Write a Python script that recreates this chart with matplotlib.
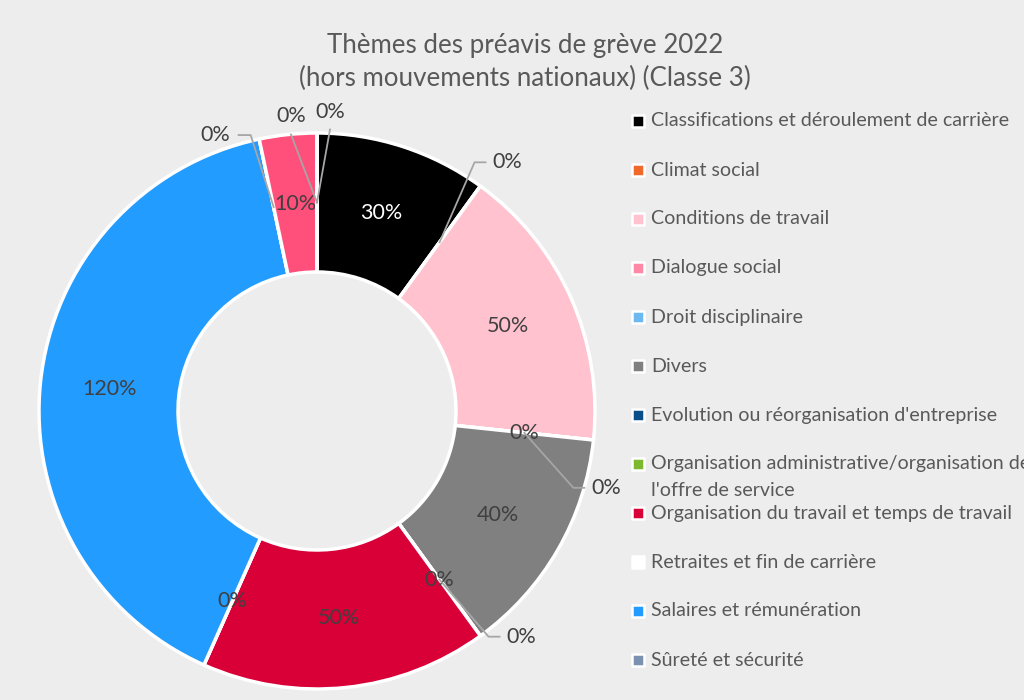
import numpy as np
import matplotlib
matplotlib.use("Agg")
import matplotlib.pyplot as plt

plt.rcParams["font.family"] = ["Lato", "DejaVu Sans"]

BG = "#EDEDED"
TXT = "#595959"
LBL = "#404040"
LEADER = "#A6A6A6"

# categories shown in the legend (the legend is cut off after "Sûreté et sécurité")
categories = [
    "Classifications et déroulement de carrière",
    "Climat social",
    "Conditions de travail",
    "Dialogue social",
    "Droit disciplinaire",
    "Divers",
    "Evolution ou réorganisation d'entreprise",
    "Organisation administrative/organisation de\nl'offre de service",
    "Organisation du travail et temps de travail",
    "Retraites et fin de carrière",
    "Salaires et rémunération",
    "Sûreté et sécurité",
]
# three further categories whose legend entries fall below the picture
extra_categories = ["", "", ""]

values = [30, 0, 50, 0, 0, 40, 0, 0, 50, 0, 120, 0]
extra_values = [10, 0, 0]

colors = ["#000000", "#F0692A", "#FFC2CE", "#FF88A6", "#6CB9F2", "#808080",
          "#0B4F8A", "#7DB92F", "#D80036", "#FFFFFF", "#239CFF", "#7A91B0"]
extra_colors = ["#FF4F7B", "#C9C9C9", "#5B5B5B"]

all_vals = values + extra_values
all_cols = colors + extra_colors

# label placement for 0% labels: None = sits on the ring,
# otherwise (dx, dy, leader) offset in pixels from the slice point
zero_layout = {
    1: (68, 80, "right"),
    3: None,
    4: (82, -55, "right"),
    6: None,
    7: (82, -57, "right"),
    9: None,
    11: (-58, 72, "left"),
    13: (-26, 86, "up"),
    14: (13, 91, "up"),
}

W, H = 1024, 700
fig = plt.figure(figsize=(W / 100, H / 100), dpi=100, facecolor=BG)

cx, cy, R = 317, 411, 278
ax = fig.add_axes([(cx - R) / W, (H - cy - R) / H, 2 * R / W, 2 * R / H])
ax.set_facecolor(BG)
wedges, _ = ax.pie(all_vals, colors=all_cols, startangle=90, counterclock=False,
                   radius=1, wedgeprops=dict(width=0.5, edgecolor="white", linewidth=2.5))
ax.set_xlim(-1, 1)
ax.set_ylim(-1, 1)
ax.set_aspect("equal")
ax.axis("off")

total = sum(all_vals)
px = 1 / R  # one pixel in data units
FS = 15.5
start = 0.0
for i, v in enumerate(all_vals):
    mid = start + v / 2
    start += v
    ang = np.deg2rad(90 - mid / total * 360)
    x0, y0 = 0.75 * np.cos(ang), 0.75 * np.sin(ang)
    txt = f"{v}%"
    if v > 0:
        c = "white" if all_cols[i] == "#000000" else LBL
        ax.text(x0, y0, txt, ha="center", va="center", fontsize=FS, color=c)
        continue
    lay = zero_layout.get(i)
    if lay is None:
        ax.text(x0, y0, txt, ha="center", va="center", fontsize=FS, color=LBL)
        continue
    dx, dy, kind = lay
    tx, ty = x0 + dx * px, y0 + dy * px
    if kind == "right":
        xs = [x0, tx - 33 * px, tx - 22 * px]
        ys = [y0, ty, ty]
    elif kind == "left":
        xs = [x0, tx + 35 * px, tx + 23 * px]
        ys = [y0, ty, ty]
    else:
        xs = [x0, tx]
        ys = [y0, ty - 18 * px]
    ax.plot(xs, ys, color=LEADER, lw=1.3, clip_on=False, zorder=3)
    ax.text(tx, ty, txt, ha="center", va="center", fontsize=FS, color=LBL,
            zorder=4, clip_on=False)

# title
fig.text(525 / W, 1 - 45 / H, "Thèmes des préavis de grève 2022", ha="center", va="center",
         fontsize=18.6, color=TXT)
fig.text(525 / W, 1 - 78 / H, "(hors mouvements nationaux) (Classe 3)", ha="center",
         va="center", fontsize=18.6, color=TXT)

# legend, drawn by hand like the Excel one
lg = fig.add_axes([0, 0, 1, 1])
lg.set_xlim(0, W)
lg.set_ylim(H, 0)
lg.axis("off")
lg.patch.set_alpha(0)
for i, (name, col) in enumerate(zip(categories, colors)):
    y = 121 + 49 * i
    lg.scatter([638], [y], marker="s", s=70, color=col, edgecolors="white",
               linewidths=1.8, clip_on=False)
    for k, line in enumerate(name.split("\n")):
        lg.text(651, y + 26 * k, line, ha="left", va="center", fontsize=14.1,
                color=TXT, clip_on=False)

fig.savefig("out.png", dpi=100, facecolor=BG)
